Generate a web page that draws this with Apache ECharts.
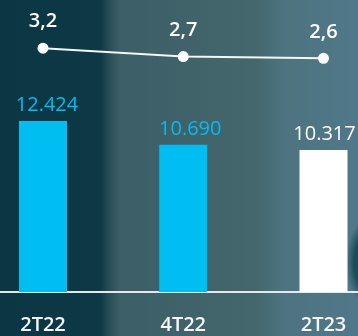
<!DOCTYPE html>
<html>
<head>
<meta charset="utf-8">
<script src="https://cdn.jsdelivr.net/npm/echarts@6/dist/echarts.min.js"></script>
<style>
  html, body { margin: 0; padding: 0; }
  #chart {
    width: 358px; height: 336px;
    background:
      radial-gradient(ellipse 20px 42px at 366px 262px, #174754 0%, #1d4c58 60%, rgba(29,76,88,0) 100%),
      linear-gradient(to right,
        #0b3644 0px, #0d3846 100px, #2a4f58 110px, #3c5e66 120px,
        #44666d 255px, #4c737d 280px, #50788a 358px);
  }
</style>
</head>
<body>
<div id="chart"></div>
<script>
  // Quarterly figures: bar totals and the rate shown above them
  const categories = ['2T22', '4T22', '2T23'];
  const barValues = [12424, 10690, 10317];
  const barLabels = ['12.424', '10.690', '10.317'];
  const lineValues = [3.2, 2.7, 2.6];
  const lineLabels = ['3,2', '2,7', '2,6'];

  const cyan = '#00bef2';
  const white = '#ffffff';
  const barColors = [cyan, cyan, white];
  const labelShift = [4, 7, 1];
  const font = '"Open Sans", "Noto Sans", sans-serif';

  const chart = echarts.init(document.getElementById('chart'), null, { renderer: 'canvas' });
  chart.setOption({
    animation: false,
    grid: [
      { left: 43, right: 34.5, top: 0, bottom: 44 },
      { left: 0, right: 0, top: 0, bottom: 44 }
    ],
    xAxis: [
      {
        type: 'category', gridIndex: 0, data: categories, boundaryGap: false,
        axisLine: { show: false }, axisTick: { show: false },
        axisLabel: { color: '#f4f6f7', fontSize: 20, fontFamily: font, fontWeight: 600, margin: 23 }
      },
      {
        type: 'value', gridIndex: 1, min: 0, max: 1,
        axisLine: { show: true, lineStyle: { color: '#e4eaec', width: 2 } },
        axisTick: { show: false }, axisLabel: { show: false }, splitLine: { show: false }
      }
    ],
    yAxis: [
      { type: 'value', gridIndex: 0, min: 0, max: 21214, show: false, splitLine: { show: false } },
      { type: 'value', gridIndex: 0, min: -11.31, max: 6.07, show: false, splitLine: { show: false } },
      { type: 'value', gridIndex: 1, show: false }
    ],
    series: [
      {
        type: 'bar', xAxisIndex: 0, yAxisIndex: 0, barWidth: 48,
        data: barValues.map((v, i) => ({
          value: v,
          itemStyle: { color: barColors[i] },
          label: { color: i === 2 ? white : cyan, offset: [labelShift[i], 0] }
        })),
        label: {
          show: true, position: 'top', distance: 6,
          fontSize: 20, fontFamily: font,
          formatter: p => barLabels[p.dataIndex]
        }
      },
      {
        type: 'line', xAxisIndex: 0, yAxisIndex: 1,
        data: lineValues,
        symbol: 'circle', symbolSize: 11,
        itemStyle: { color: white },
        lineStyle: { color: '#f4f6f7', width: 2 },
        label: {
          show: true, position: 'top', distance: 11,
          color: white, fontSize: 20, fontFamily: font, fontWeight: 600,
          formatter: p => lineLabels[p.dataIndex]
        }
      }
    ]
  });
</script>
</body>
</html>
